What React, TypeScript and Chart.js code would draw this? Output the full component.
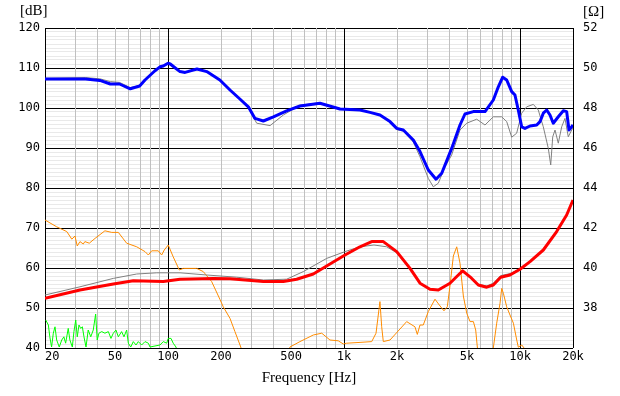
import React, { useEffect, useRef } from 'react';
import { Chart, registerables } from 'chart.js';

Chart.register(...registerables);

// ---- Data ----
const splFreq = [20, 34, 41, 47, 53, 61, 69, 74, 84, 90, 94, 100, 103, 110, 117, 125, 146, 166, 197, 225, 256, 286, 312, 348, 397, 472, 562, 730, 949, 1232, 1405, 1600, 1824, 1993, 2172, 2476, 2702, 3012, 3332, 3590, 4090, 4560, 4866, 5430, 6325, 7050, 7530, 7970, 8400, 8970, 9360, 9775, 10220, 10670, 11400, 12440, 12990, 13560, 14180, 14800, 15450, 16500, 17620, 18410, 18980, 19660, 20000];
const splDb = [107.25, 107.25, 106.9, 106, 106, 104.8, 105.5, 107, 109.25, 110.3, 110.5, 111.2, 111, 110, 109.1, 108.9, 109.75, 109.1, 107, 104.5, 102.25, 100.3, 97.4, 96.75, 97.8, 99.3, 100.5, 101.2, 99.75, 99.5, 98.9, 98.25, 96.6, 94.9, 94.5, 92, 89.1, 84.5, 82.2, 83.7, 89.9, 95.75, 98.5, 99.1, 99.1, 102, 105.3, 107.7, 107, 104.1, 103.25, 99.5, 95.3, 94.9, 95.5, 95.75, 96.6, 98.7, 99.5, 98.25, 96.2, 97.8, 99.3, 99.1, 94.5, 95.3, 95.75];

const splRefFreq = [20, 34, 41, 47, 53, 61, 69, 74, 84, 90, 100, 110, 117, 125, 146, 166, 197, 225, 256, 286, 319, 380, 452, 562, 730, 949, 1232, 1405, 1600, 1824, 1993, 2172, 2476, 2702, 3012, 3216, 3434, 3748, 4090, 4560, 4978, 5674, 6325, 7050, 7870, 8400, 8970, 9570, 10220, 10910, 11900, 12700, 13560, 14480, 14940, 15340, 15810, 16500, 17250, 18010, 18800, 19660, 20000];
const splRefDb = [107.4, 107.6, 107.3, 106.6, 106.4, 105.1, 105.6, 107, 109.2, 110.2, 111.1, 110, 109.1, 108.9, 109.7, 109.1, 107, 104.5, 102.25, 100, 96.2, 95.6, 98.25, 100.7, 101.3, 99.75, 99.5, 98.9, 98.2, 96.4, 94.6, 94.2, 91.5, 87.8, 82.4, 80.3, 81.2, 85.3, 88.25, 94.5, 96.2, 97.2, 95.75, 97.8, 97.8, 96.6, 92.7, 93.7, 98.7, 100.3, 100.9, 99.5, 95.3, 89.9, 85.75, 92.8, 94.5, 91.2, 95.3, 97.4, 92.8, 94.5, 95];

const impFreq = [20, 31.6, 48.9, 63.5, 94, 117, 181, 225, 348, 452, 538, 669, 832, 1013, 1232, 1437, 1672, 1993, 2372, 2702, 3080, 3434, 4000, 4460, 4722, 5200, 5795, 6470, 7050, 7765, 8770, 10000, 11400, 13560, 16150, 18410, 20000];
const impOhm = [38.48, 38.9, 39.2, 39.36, 39.32, 39.44, 39.48, 39.46, 39.32, 39.32, 39.44, 39.7, 40.2, 40.65, 41.06, 41.32, 41.32, 40.82, 39.98, 39.24, 38.94, 38.9, 39.24, 39.65, 39.86, 39.56, 39.15, 39.04, 39.15, 39.54, 39.65, 39.94, 40.32, 40.9, 41.82, 42.65, 43.4];

const impRefFreq = [20, 31.6, 48.9, 66.4, 86.3, 117, 166, 245.6, 348, 472, 587, 797, 1013, 1232, 1480, 1748, 1993, 2372, 2702, 3080, 3434, 4000, 4460, 4722, 5200, 5795, 6470, 7050, 7765, 8770, 10000, 11400, 13560, 16150, 18410, 20000];
const impRefOhm = [38.65, 39.06, 39.48, 39.7, 39.76, 39.76, 39.65, 39.54, 39.4, 39.44, 39.82, 40.48, 40.82, 41.06, 41.15, 41.06, 40.76, 39.94, 39.24, 38.94, 38.9, 39.24, 39.64, 39.84, 39.56, 39.18, 39.1, 39.24, 39.62, 39.72, 39.96, 40.32, 40.9, 41.82, 42.65, 43.4];

const distFreq = [20, 23.3, 26.6, 28.4, 29.6, 30.5, 31.6, 33, 33.7, 35.7, 38.5, 43.8, 47.9, 52.2, 58.2, 66.4, 74, 77.3, 80.8, 88, 92, 95.2, 100.3, 107, 115.9, 122, 145.5, 158.6, 177, 197, 206, 225, 240, 259, 275, 470, 493, 562, 669, 747, 832, 927, 991, 1036, 1233, 1437, 1520, 1600, 1637, 1672, 1825, 2270, 2530, 2609, 2702, 2820, 3012, 3288, 3478, 3697, 3862, 4000, 4180, 4368, 4560, 4765, 4980, 5200, 5433, 5600, 5720, 5900, 6800, 7050, 7370, 7700, 7870, 8040, 8400, 8770, 9170, 9580, 9780, 10230, 10540, 10800];
const distDb = [72, 70.3, 69.1, 67.2, 68, 65.5, 66.6, 66, 66.6, 66.2, 67.4, 69.3, 68.9, 68.9, 66.2, 65.3, 64.1, 63.25, 64.3, 64.3, 63.25, 64.5, 65.75, 62.8, 59.5, 59.9, 59.9, 59.1, 56.6, 52.2, 50.3, 47.4, 44.1, 40.25, 36, 36, 40.25, 41.6, 43.25, 43.7, 42, 41.8, 41, 41.2, 41.4, 41.6, 43.7, 51.6, 45.3, 41.6, 42, 46.6, 45.3, 43.4, 45.75, 45.75, 49.1, 52.2, 50.75, 49.3, 50.3, 55.5, 63, 65.3, 61.2, 53, 48.7, 46.6, 46.6, 44.5, 40.25, 36, 36, 40, 46.2, 51.2, 54.9, 53.7, 50.3, 48.25, 46.2, 42, 40.2, 40.75, 40, 36];

const noiseFreq = [20.2, 20.9, 21.3, 21.8, 22.3, 22.8, 23.3, 24.1, 24.9, 25.6, 26.2, 27.1, 27.7, 28.6, 29.2, 29.9, 30.5, 31.2, 31.9, 32.6, 33.3, 34.2, 35.2, 36.4, 37.6, 38.8, 39.6, 40.5, 42, 43.8, 45.8, 47.4, 48.9, 50.6, 52.2, 54.5, 56.2, 58.2, 59.5, 61.4, 63.5, 65.8, 67.8, 70.8, 74, 77.3, 79, 90, 94, 98.3, 100.3, 104, 107, 111, 116];
const noiseDb = [47, 45.75, 42.8, 40.25, 43.7, 45.3, 42, 40.25, 42, 42.8, 41.2, 44.9, 42, 40.25, 44.1, 47, 42.8, 45.75, 44.9, 45.3, 42.8, 40.25, 44.5, 42.8, 44.5, 48.5, 42, 43.7, 44.1, 43.7, 44.1, 42.4, 43.7, 44.5, 42.8, 44.1, 42.8, 44.5, 41.2, 40.25, 41.6, 40.75, 41.6, 40.75, 41.6, 41.2, 40.25, 40.75, 41.6, 41.2, 42.4, 42.4, 41.2, 40.25, 36];

// Axis ticks
const xGridValues = [20, 30, 40, 50, 60, 70, 80, 90, 100, 200, 300, 400, 500, 600, 700, 800, 900, 1000, 2000, 3000, 4000, 5000, 6000, 7000, 8000, 9000, 10000, 20000];
const xMajorValues = [20, 100, 1000, 10000, 20000];
const xLabelValues = [20, 50, 100, 200, 500, 1000, 2000, 5000, 10000, 20000];
const xLabelTexts = ['  20', '50', '100', '200', '500', '1k', '2k', '5k', '10k', '20k'];
const dbRange = [40, 120];
const ohmRange = [36, 52];
const ohmLabelValues = [38, 40, 42, 44, 46, 48, 50, 52];

const pts = (xs: number[], ys: number[]) => xs.map((x, i) => ({ x, y: ys[i] }));

const tickFont = { family: '"DejaVu Sans Mono", monospace', size: 12 };

const unitLabels = {
  id: 'unitLabels',
  afterDraw(chart: any) {
    const c = chart.ctx;
    c.save();
    c.font = '15px "Liberation Serif", serif';
    c.fillStyle = '#000';
    c.textBaseline = 'middle';
    c.textAlign = 'left';
    c.fillText('[dB]', 20, 11);
    c.fillText('[Ω]', 583, 12);
    c.restore();
  },
};

export default function App() {
  const ref = useRef<HTMLCanvasElement | null>(null);

  useEffect(() => {
    if (!ref.current) return;
    const chart = new Chart(ref.current, {
      type: 'line',
      data: {
        datasets: [
          { label: 'SPL', data: pts(splFreq, splDb), borderColor: '#0000ff', borderWidth: 3, yAxisID: 'y' },
          { label: 'Impedance', data: pts(impFreq, impOhm), borderColor: '#ff0000', borderWidth: 3, yAxisID: 'y1' },
          { label: 'SPL ref', data: pts(splRefFreq, splRefDb), borderColor: '#808080', borderWidth: 1, yAxisID: 'y' },
          { label: 'Impedance ref', data: pts(impRefFreq, impRefOhm), borderColor: '#808080', borderWidth: 1, yAxisID: 'y1' },
          { label: 'Distortion', data: pts(distFreq, distDb), borderColor: '#ff8c00', borderWidth: 1, yAxisID: 'y' },
          { label: 'Noise', data: pts(noiseFreq, noiseDb), borderColor: '#00ff00', borderWidth: 1, yAxisID: 'y' },
        ],
      },
      options: {
        animation: false,
        responsive: false,
        devicePixelRatio: 1,
        layout: { padding: { top: 28, left: 0, right: 0, bottom: 0 } },
        plugins: { legend: { display: false }, tooltip: { enabled: false } },
        elements: { point: { radius: 0 }, line: { tension: 0, borderJoinStyle: 'round' } },
        scales: {
          x: {
            type: 'logarithmic',
            position: 'bottom',
            min: 20,
            max: 20000,
            afterBuildTicks: (s: any) => { s.ticks = xGridValues.map((v) => ({ value: v })); },
            afterFit: (s: any) => { s.height = 48; },
            ticks: {
              autoSkip: false,
              maxRotation: 0,
              minRotation: 0,
              padding: 2,
              color: '#000',
              font: tickFont,
              callback: (v: any) => {
                const i = xLabelValues.indexOf(Number(v));
                return i >= 0 ? xLabelTexts[i] : '';
              },
            },
            grid: {
              drawTicks: false,
              lineWidth: 1,
              z: -1,
              color: (ctx: any) => (ctx.tick && xMajorValues.includes(ctx.tick.value) ? '#000000' : '#c0c0c0'),
            },
            border: { display: false },
            title: {
              display: true,
              text: 'Frequency [Hz]',
              color: '#000',
              font: { family: '"Liberation Serif", serif', size: 15 },
              padding: { top: 0, bottom: 9 },
            },
          },
          y: {
            type: 'linear',
            position: 'left',
            min: dbRange[0],
            max: dbRange[1],
            afterBuildTicks: (s: any) => {
              const t = [];
              for (let v = dbRange[0]; v <= dbRange[1]; v += 1) t.push({ value: v });
              s.ticks = t;
            },
            afterFit: (s: any) => { s.width = 45; },
            ticks: {
              autoSkip: false,
              padding: 5,
              color: '#000',
              font: tickFont,
              callback: (v: any) => (Number(v) % 10 === 0 ? String(v) : ''),
            },
            grid: {
              drawTicks: false,
              lineWidth: 1,
              z: -2,
              color: (ctx: any) => (ctx.tick && ctx.tick.value % 10 === 0 ? '#000000' : '#e9e9e9'),
            },
            border: { display: false },
          },
          y1: {
            type: 'linear',
            position: 'right',
            min: ohmRange[0],
            max: ohmRange[1],
            afterBuildTicks: (s: any) => { s.ticks = ohmLabelValues.map((v) => ({ value: v })); },
            afterFit: (s: any) => { s.width = 47; },
            ticks: {
              autoSkip: false,
              padding: 10,
              color: '#000',
              font: tickFont,
            },
            grid: { display: false, drawTicks: false },
            border: { display: false },
          },
        },
      } as any,
      plugins: [unitLabels],
    });
    return () => chart.destroy();
  }, []);

  return (
    <div style={{ position: 'absolute', left: 0, top: 0, width: 620, height: 396, background: '#fff' }}>
      <canvas ref={ref} width={620} height={396} style={{ display: 'block', width: 620, height: 396 }} />
    </div>
  );
}
